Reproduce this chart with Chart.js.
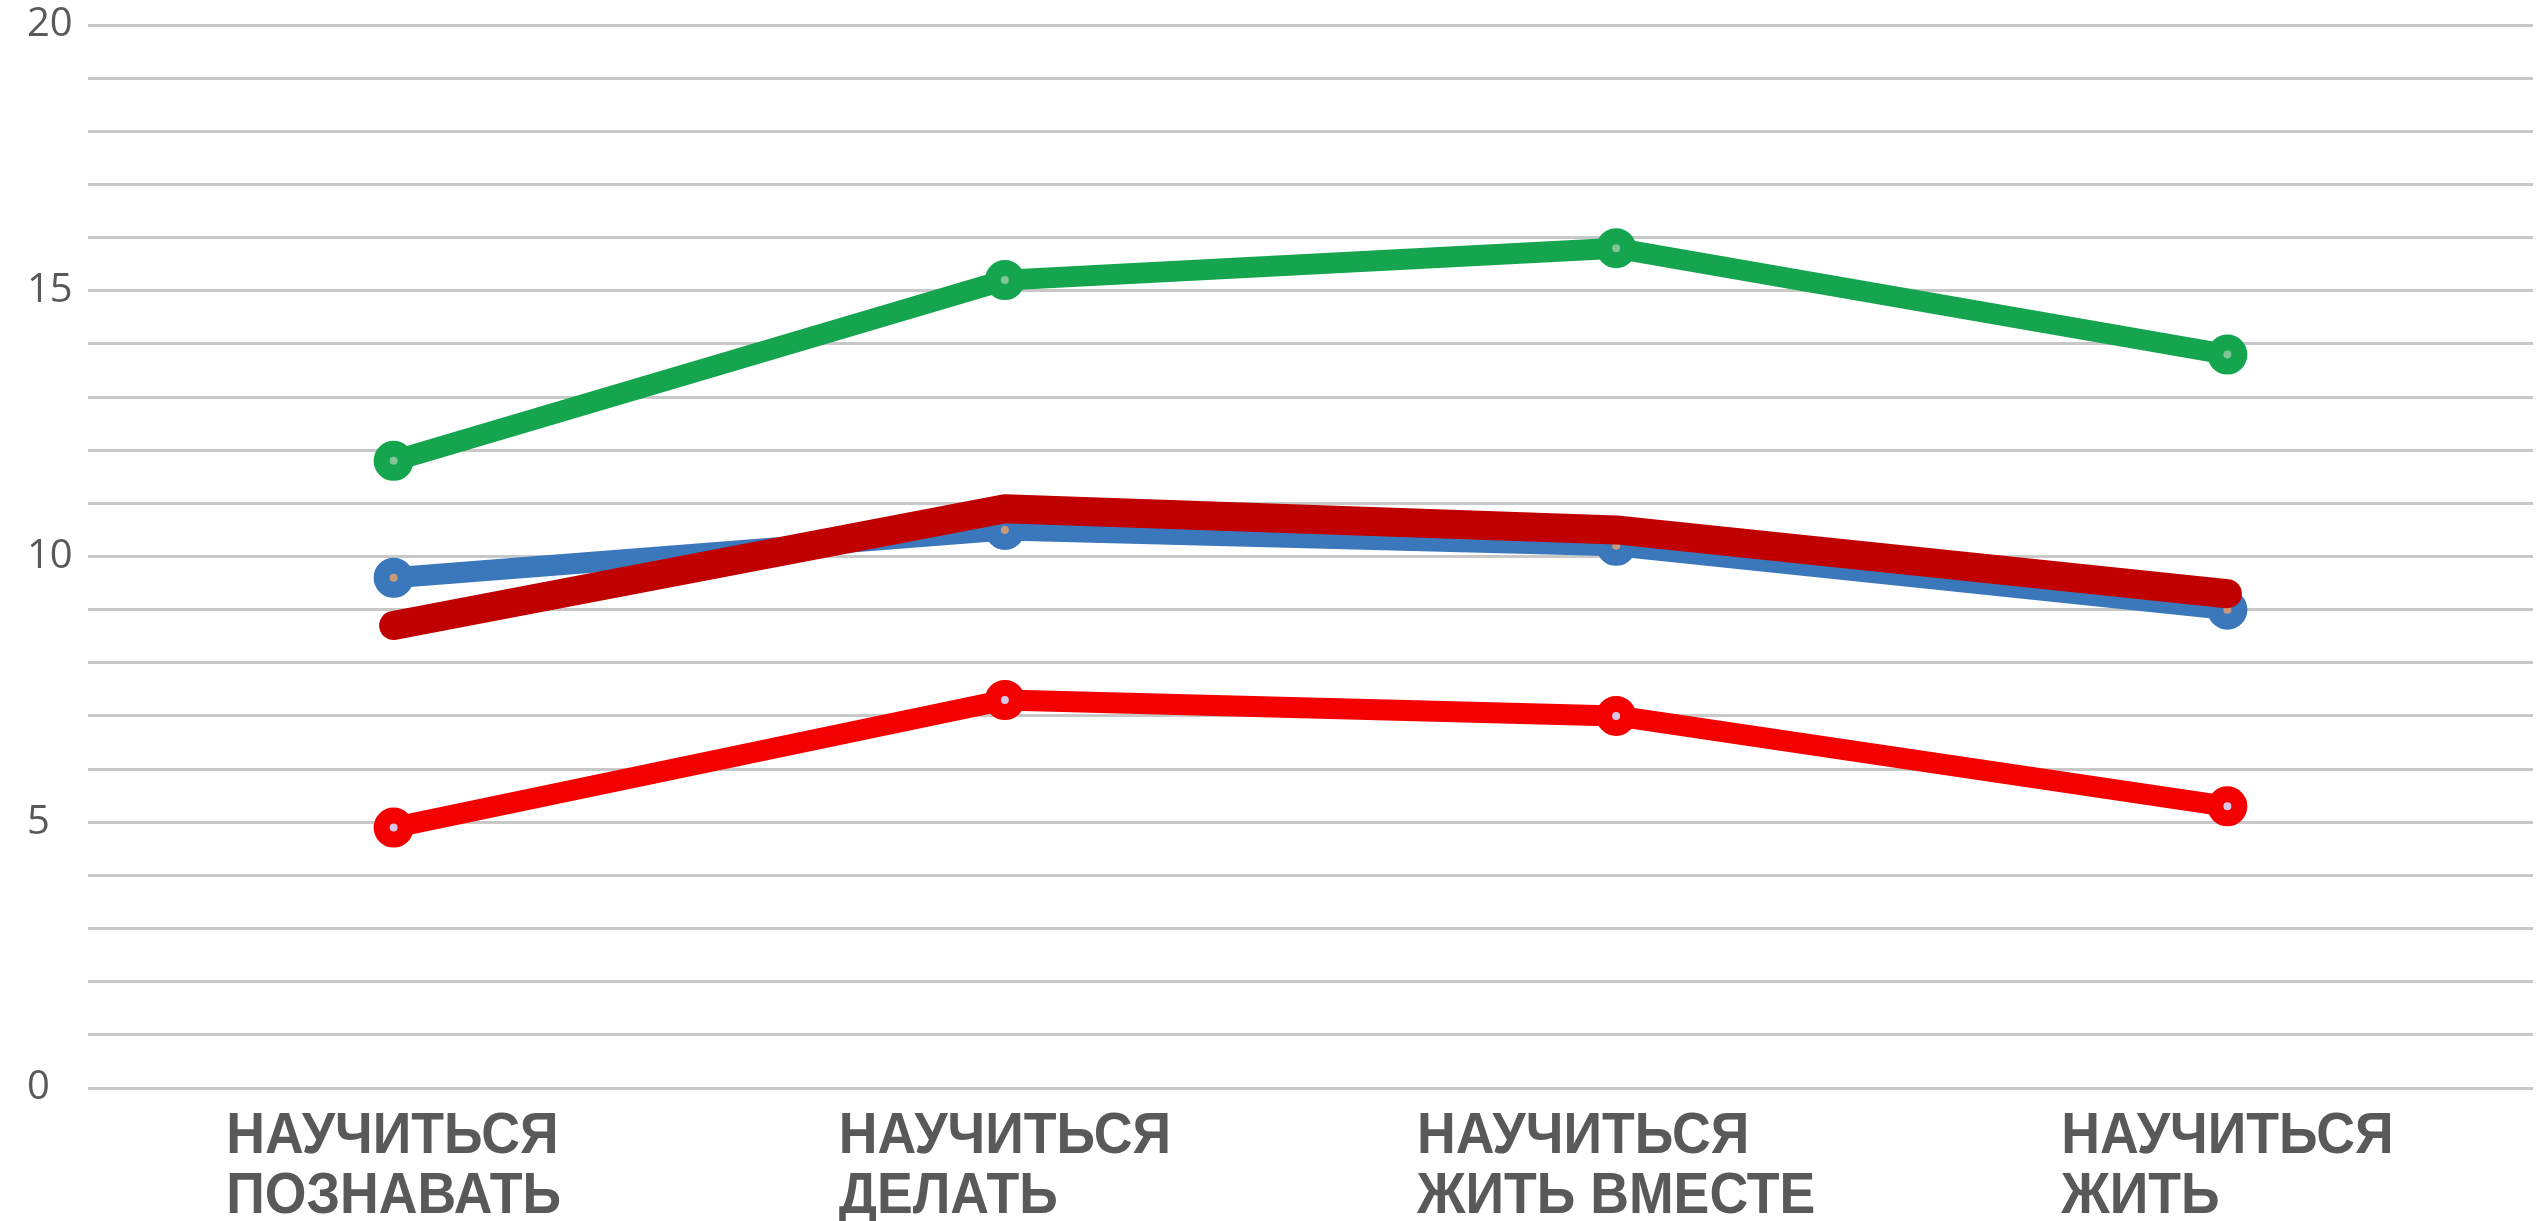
<!DOCTYPE html>
<html lang="ru">
<head>
<meta charset="utf-8">
<title>Научиться</title>
<script src="https://cdn.jsdelivr.net/npm/chart.js@4.4.1/dist/chart.umd.min.js"></script>
<style>
  html, body { margin: 0; padding: 0; background: #fff; overflow: hidden; }
  #wrap { width: 2539px; height: 1221px; position: relative; overflow: hidden; }
  #chart { display: block; }
</style>
</head>
<body>
<div id="wrap"><canvas id="chart"></canvas></div>
<script>
// данные
const categories = [
    ['НАУЧИТЬСЯ', 'ПОЗНАВАТЬ'],
    ['НАУЧИТЬСЯ', 'ДЕЛАТЬ'],
    ['НАУЧИТЬСЯ', 'ЖИТЬ ВМЕСТЕ'],
    ['НАУЧИТЬСЯ', 'ЖИТЬ'],
];
const greenValues = [11.8, 15.2, 15.8, 13.8];
const blueValues = [9.6, 10.5, 10.2, 9.0];
const darkRedValues = [8.7, 10.9, 10.5, 9.3];
const redValues = [4.9, 7.3, 7.0, 5.3];
const yTicks = [0, 5, 10, 15, 20];

// подписи категорий: строки выровнены влево, блок по центру категории
const xLabels = {
    id: 'xLabels',
    afterDraw(chart) {
        const ctx = chart.ctx;
        const xs = chart.scales.x;
        const squeeze = 0.925;
        ctx.save();
        ctx.font = 'bold 58px "Liberation Sans", Arial, sans-serif';
        ctx.fillStyle = '#595959';
        ctx.textAlign = 'left';
        ctx.textBaseline = 'alphabetic';
        categories.forEach((lines, i) => {
            const cx = xs.getPixelForValue(i);
            const w = Math.max(...lines.map(l => ctx.measureText(l).width)) * squeeze;
            lines.forEach((line, j) => {
                ctx.save();
                ctx.translate(cx - w / 2, chart.chartArea.bottom + 65 + j * 60);
                ctx.scale(squeeze, 1);
                ctx.fillText(line, 0, 0);
                ctx.restore();
            });
        });
        ctx.restore();
    },
};

// маркер: кольцо цвета линии и маленькая светлая серединка
const lineSet = (data, color, centre, width, order, radius, ring) => ({
    data,
    borderColor: color,
    backgroundColor: color,
    borderWidth: width,
    pointRadius: radius,
    pointBorderWidth: ring,
    pointBackgroundColor: centre,
    pointBorderColor: color,
    borderCapStyle: 'round',
    borderJoinStyle: 'round',
    tension: 0,
    fill: false,
    order,
});

new Chart(document.getElementById('chart'), {
    type: 'line',
    data: {
        labels: categories.map(c => c.join(' ')),
        datasets: [
            lineSet(greenValues, '#14a54e', '#7fc595', 21, 3, 12, 16),
            lineSet(blueValues, '#3b78bb', '#c99a7a', 21, 2, 12, 16),
            lineSet(darkRedValues, '#c00000', '#c00000', 29, 1, 12, 0),
            lineSet(redValues, '#f50000', '#d8c4e4', 21, 0, 12, 16),
        ],
    },
    options: {
        responsive: true,
        maintainAspectRatio: false,
        animation: false,
        layout: {
            autoPadding: false,
            padding: { top: 25, right: 6, bottom: 125, left: 27 },
        },
        plugins: {
            legend: { display: false },
            tooltip: { enabled: false },
        },
        scales: {
            x: {
                offset: true,
                grid: { display: false },
                border: { display: false },
                ticks: { display: false },
            },
            y: {
                min: 0,
                max: 20,
                afterFit(scale) {
                    scale.width = 61;
                    scale.paddingTop = 0;
                    scale.paddingBottom = 0;
                },
                afterBuildTicks(scale) {
                    scale.ticks = Array.from({ length: 21 }, (_, v) => ({ value: v }));
                },
                grid: { color: '#c8c8c8', lineWidth: 3, drawTicks: false },
                border: { display: false },
                ticks: {
                    autoSkip: false,
                    crossAlign: 'far',
                    padding: 13,
                    color: '#595959',
                    font: { family: '"Open Sans", sans-serif', size: 40 },
                    callback: v => (yTicks.includes(v) ? v : ''),
                },
            },
        },
    },
    plugins: [xLabels],
});
</script>
</body>
</html>
